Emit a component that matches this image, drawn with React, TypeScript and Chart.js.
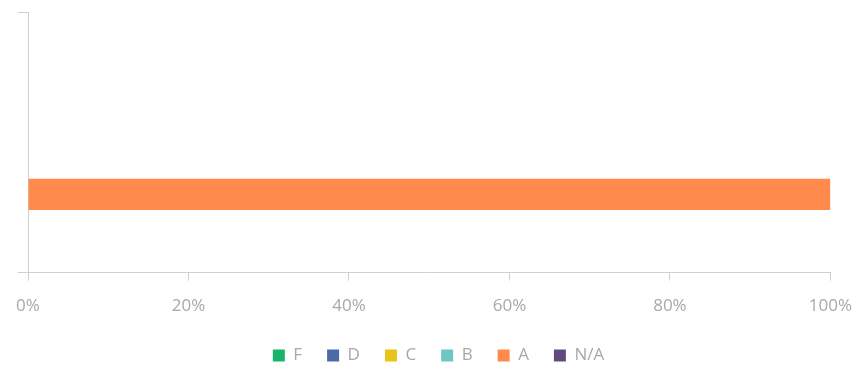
import React, { useEffect, useRef } from "react";
import { Chart, registerables } from "chart.js";

Chart.register(...registerables);

const categories = [""];
const seriesNames = ["F", "D", "C", "B", "A", "N/A"];
const seriesColors = ["#19b36b", "#4a6aa8", "#e8c31a", "#6cc6c4", "#ff8a4c", "#5f4b7b"];
const seriesF = [0];
const seriesD = [0];
const seriesC = [0];
const seriesB = [0];
const seriesA = [100];
const seriesNA = [0];
const xTicks = [0, 20, 40, 60, 80, 100];

export default function App() {
  const ref = useRef<HTMLCanvasElement | null>(null);
  useEffect(() => {
    if (!ref.current) return;
    const values = [seriesF, seriesD, seriesC, seriesB, seriesA, seriesNA];
    const legendShift = {
      id: "legendShift",
      afterLayout(chart: any) {
        const lg = chart.legend;
        if (!lg) return;
        lg.left -= 6;
        lg.right -= 6;
      },
    };
    const chart = new Chart(ref.current, {
      type: "bar",
      data: {
        labels: categories,
        datasets: seriesNames.map((name, i) => ({
          label: name,
          data: values[i],
          backgroundColor: seriesColors[i],
          borderWidth: 0,
        })),
      },
      plugins: [legendShift],
      options: {
        indexAxis: "y",
        animation: false,
        responsive: true,
        maintainAspectRatio: false,
        layout: { padding: { left: 18, right: -4, top: 12, bottom: -6 } },
        plugins: {
          tooltip: { enabled: false },
          legend: {
            position: "bottom",
            labels: {
              boxWidth: 12,
              boxHeight: 12,
              padding: 25,
              color: "#a8a8a8",
              font: { family: "Open Sans", size: 17 },
            },
          },
        },
        scales: {
          x: {
            min: 0,
            max: 100,
            afterBuildTicks: (axis: any) => {
              axis.ticks = xTicks.map((v) => ({ value: v }));
            },
            afterFit: (axis: any) => {
              axis.height -= 9;
            },
            grid: { drawOnChartArea: false, drawTicks: true, tickLength: 8, color: "#cfcfcf" },
            border: { color: "#cfcfcf" },
            ticks: {
              padding: 15,
              color: "#a8a8a8",
              font: { family: "Open Sans", size: 17 },
              callback: (v: any) => v + "%",
            },
          },
          y: {
            grid: { drawOnChartArea: false, drawTicks: true, tickLength: 10, color: "#cfcfcf" },
            border: { color: "#cfcfcf" },
            ticks: { display: true, padding: 0, font: { size: 1 } },
          },
        },
      },
    });
    return () => chart.destroy();
  }, []);
  return (
    <div style={{ position: "fixed", left: 0, top: 0, width: 861, height: 368, overflow: "hidden" }}>
      <div style={{ position: "absolute", left: 0, top: 0, width: 867, height: 368 }}>
        <canvas ref={ref} />
      </div>
    </div>
  );
}
